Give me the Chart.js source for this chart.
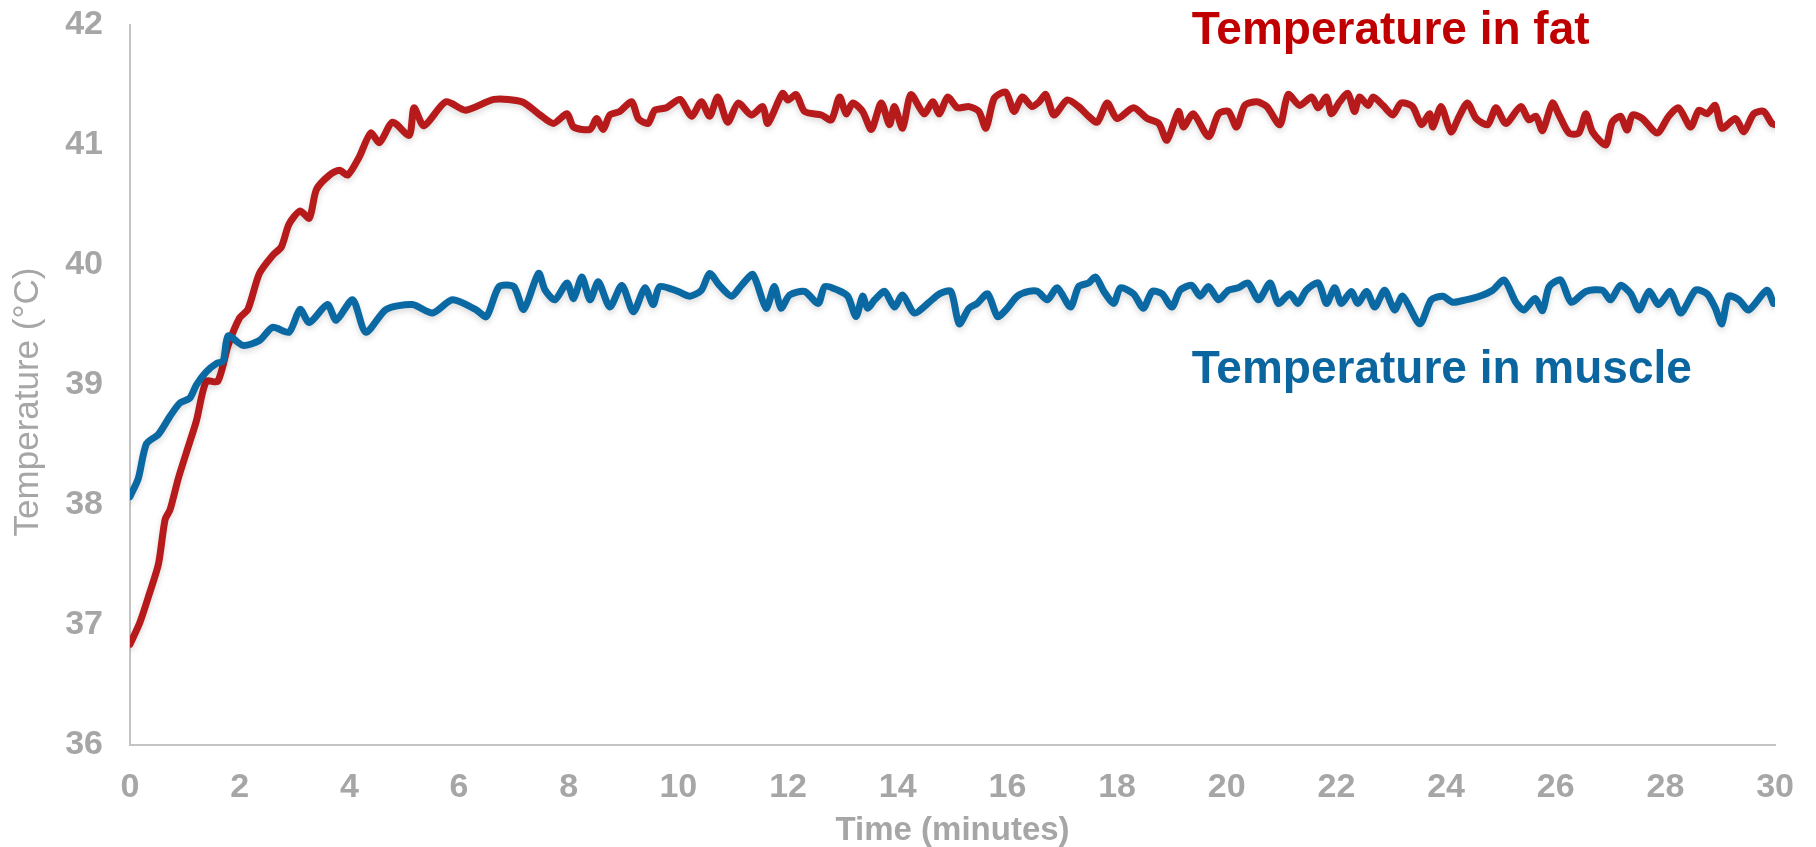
<!DOCTYPE html>
<html>
<head>
<meta charset="utf-8">
<title>Temperature in fat and muscle</title>
<script src="https://cdn.jsdelivr.net/npm/chart.js@4/dist/chart.umd.min.js"></script>
<style>
    html, body { margin: 0; padding: 0; background: #fff; }
    #wrap { width: 1816px; height: 847px; position: relative; }
</style>
</head>
<body>
<div id="wrap"><canvas id="tempChart"></canvas></div>
<script>
// ==================== DATA ====================
const xTicks = [0, 2, 4, 6, 8, 10, 12, 14, 16, 18, 20, 22, 24, 26, 28, 30];
const yTicks = [36, 37, 38, 39, 40, 41, 42];

const fatTime = [0, 0.18, 0.36, 0.52, 0.64, 0.73, 0.88, 1.03, 1.21, 1.39, 1.6, 1.79, 2.0, 2.15, 2.36, 2.6, 2.76, 2.9, 3.1, 3.27,
    3.4, 3.64, 3.82, 3.97, 4.18, 4.39, 4.55, 4.79, 5.09, 5.18, 5.36, 5.76, 6.12, 6.64, 7.15,
    7.45, 7.72, 7.97, 8.09, 8.39, 8.51, 8.63, 8.75, 8.93, 9.15, 9.27, 9.45, 9.57, 9.78, 10.03, 10.24, 10.42, 10.57, 10.72, 10.9,
    11.09, 11.33, 11.54, 11.63, 11.9, 12.0, 12.15, 12.3, 12.61, 12.79, 12.94, 13.06, 13.18, 13.36, 13.52, 13.7, 13.85, 13.94,
    14.09, 14.24, 14.48, 14.64, 14.76, 14.91, 15.09, 15.3, 15.48, 15.61, 15.76, 15.97, 16.12, 16.27, 16.45, 16.58, 16.7, 16.85,
    17.09, 17.3, 17.48, 17.64, 17.82, 18.0, 18.3, 18.55, 18.76, 18.91, 19.12, 19.21, 19.39, 19.67, 19.85, 20.03, 20.18, 20.33,
    20.55, 20.73, 20.97, 21.12, 21.33, 21.55, 21.67, 21.82, 21.91, 22.06, 22.21, 22.33, 22.42, 22.58, 22.67, 22.85, 23.03, 23.18,
    23.39, 23.55, 23.7, 23.76, 23.91, 24.09, 24.24, 24.39, 24.55, 24.76, 24.91, 25.09, 25.36, 25.51, 25.64, 25.76, 25.94, 26.06,
    26.24, 26.42, 26.55, 26.67, 26.91, 27.03, 27.18, 27.3, 27.4, 27.58, 27.85, 28.06, 28.24, 28.46, 28.61, 28.76, 28.91, 29.03,
    29.28, 29.43, 29.61, 29.79, 29.94, 30.0];
const fatTemp = [36.84, 37.02, 37.27, 37.51, 37.88, 37.96, 38.22, 38.44, 38.70, 39.03, 39.03, 39.33, 39.56, 39.63, 39.93, 40.08, 40.15, 40.34, 40.45, 40.39,
    40.63, 40.75, 40.79, 40.75, 40.90, 41.10, 41.02, 41.19, 41.08, 41.31, 41.16, 41.36, 41.29, 41.38, 41.36,
    41.26, 41.18, 41.26, 41.15, 41.13, 41.22, 41.13, 41.25, 41.28, 41.36, 41.22, 41.18, 41.29, 41.31, 41.38, 41.24, 41.36, 41.24, 41.40, 41.19,
    41.35, 41.25, 41.32, 41.18, 41.43, 41.375, 41.42, 41.28, 41.25, 41.21, 41.40, 41.26, 41.35, 41.28, 41.13, 41.35, 41.17, 41.32,
    41.14, 41.42, 41.26, 41.36, 41.26, 41.40, 41.31, 41.32, 41.28, 41.14, 41.39, 41.44, 41.28, 41.40, 41.32, 41.36, 41.42, 41.25,
    41.375, 41.32, 41.24, 41.19, 41.35, 41.22, 41.31, 41.22, 41.18, 41.04, 41.28, 41.15, 41.26, 41.07, 41.26, 41.28, 41.15, 41.33,
    41.36, 41.32, 41.17, 41.42, 41.33, 41.40, 41.31, 41.40, 41.26, 41.36, 41.43, 41.28, 41.40, 41.33, 41.40, 41.33, 41.25, 41.35,
    41.32, 41.17, 41.26, 41.15, 41.32, 41.11, 41.24, 41.35, 41.22, 41.17, 41.31, 41.18, 41.32, 41.21, 41.24, 41.12, 41.35, 41.25,
    41.10, 41.10, 41.26, 41.11, 41.00, 41.19, 41.24, 41.125, 41.25, 41.22, 41.10, 41.24, 41.31, 41.15, 41.29, 41.26, 41.33, 41.14,
    41.22, 41.11, 41.26, 41.28, 41.18, 41.17];

const muscleTime = [0, 0.15, 0.3, 0.52, 0.73, 0.91, 1.09, 1.21, 1.39, 1.58, 1.7, 1.79, 2.06, 2.36, 2.6, 2.9, 3.1, 3.27, 3.6, 3.76,
    4.06, 4.3, 4.67, 5.15, 5.52, 5.88, 6.3, 6.5, 6.73, 7.0, 7.18,
    7.45, 7.57, 7.75, 7.97, 8.09, 8.24, 8.39, 8.54, 8.75, 8.97, 9.18, 9.39, 9.54, 9.66, 9.99, 10.21, 10.42, 10.57, 10.75, 10.97,
    11.15, 11.36, 11.6, 11.75, 11.87, 12.03, 12.3, 12.55, 12.67, 12.91, 13.09, 13.24, 13.36, 13.45, 13.58, 13.76, 13.94, 14.09,
    14.3, 14.55, 14.76, 14.97, 15.12, 15.3, 15.45, 15.64, 15.82, 15.97, 16.18, 16.39, 16.55, 16.73, 16.91, 17.15, 17.3, 17.48,
    17.61, 17.76, 17.94, 18.06, 18.3, 18.48, 18.64, 18.82, 19.0, 19.15, 19.36, 19.515, 19.67, 19.85, 20.03, 20.21, 20.39, 20.58,
    20.79, 20.94, 21.15, 21.3, 21.45, 21.67, 21.82, 21.97, 22.09, 22.27, 22.39, 22.55, 22.7, 22.88, 23.06, 23.21, 23.52, 23.73,
    23.94, 24.12, 24.36, 24.61, 24.85, 25.06, 25.27, 25.42, 25.62, 25.76, 25.88, 26.09, 26.28, 26.55, 26.85, 27.0, 27.18, 27.37,
    27.52, 27.7, 27.88, 28.09, 28.28, 28.55, 28.76, 28.91, 29.03, 29.15, 29.34, 29.52, 29.85, 29.97];
const muscleTemp = [38.07, 38.22, 38.51, 38.59, 38.74, 38.85, 38.89, 39.00, 39.11, 39.18, 39.20, 39.41, 39.33, 39.37, 39.48, 39.44, 39.63, 39.52, 39.67, 39.54,
    39.71, 39.44, 39.63, 39.67, 39.60, 39.71, 39.63, 39.57, 39.82, 39.82, 39.63,
    39.93, 39.79, 39.71, 39.85, 39.72, 39.90, 39.71, 39.86, 39.65, 39.83, 39.61, 39.81, 39.67, 39.82, 39.78, 39.74, 39.79, 39.93, 39.83, 39.74,
    39.83, 39.92, 39.64, 39.82, 39.64, 39.75, 39.78, 39.68, 39.82, 39.79, 39.74, 39.57, 39.74, 39.64, 39.71, 39.78, 39.65, 39.75,
    39.60, 39.68, 39.76, 39.78, 39.51, 39.64, 39.68, 39.76, 39.57, 39.625, 39.74, 39.78, 39.78, 39.71, 39.81, 39.65, 39.82, 39.85,
    39.90, 39.78, 39.68, 39.81, 39.76, 39.64, 39.78, 39.76, 39.65, 39.79, 39.83, 39.74, 39.82, 39.71, 39.79, 39.81, 39.85, 39.71,
    39.85, 39.68, 39.76, 39.68, 39.79, 39.85, 39.68, 39.81, 39.68, 39.78, 39.68, 39.78, 39.65, 39.79, 39.625, 39.74, 39.51, 39.71,
    39.74, 39.69, 39.71, 39.74, 39.79, 39.875, 39.69, 39.625, 39.72, 39.62, 39.82, 39.875, 39.69, 39.78, 39.79, 39.71, 39.83, 39.76,
    39.625, 39.78, 39.67, 39.78, 39.60, 39.79, 39.76, 39.64, 39.51, 39.74, 39.71, 39.625, 39.79, 39.68];

// ==================== STYLE ====================
const FONT = "'Liberation Sans', Arial, sans-serif";
const GRIS = '#a6a6a6';
const ROJO = '#b71a1a';
const AZUL = '#0a69a3';

function toPoints(xs, ys) {
    return xs.map(function(x, i) { return { x: x, y: ys[i] }; });
}

// soft shadow under the lines
const sombraPlugin = {
    id: 'sombra',
    beforeDatasetDraw: function(chart) {
        const ctx = chart.ctx;
        ctx.save();
        ctx.shadowColor = 'rgba(0, 0, 0, 0.15)';
        ctx.shadowBlur = 6;
        ctx.shadowOffsetY = 3;
    },
    afterDatasetDraw: function(chart) {
        chart.ctx.restore();
    }
};

// line labels (data coordinates) and the y axis title, a bit below centre as in the original
const etiquetasPlugin = {
    id: 'etiquetas',
    afterDraw: function(chart) {
        const ctx = chart.ctx;
        const sx = chart.scales.x;
        const sy = chart.scales.y;
        const area = chart.chartArea;
        ctx.save();
        ctx.font = 'bold 46px ' + FONT;
        ctx.textAlign = 'left';
        ctx.textBaseline = 'alphabetic';
        ctx.fillStyle = '#c00000';
        ctx.fillText('Temperature in fat', sx.getPixelForValue(19.36), sy.getPixelForValue(41.84));
        ctx.fillStyle = '#0b66a0';
        ctx.fillText('Temperature in muscle', sx.getPixelForValue(19.36), sy.getPixelForValue(39.02));

        ctx.translate(28, (area.top + area.bottom) / 2 + 17);
        ctx.rotate(-Math.PI / 2);
        ctx.font = '35px ' + FONT;
        ctx.textAlign = 'center';
        ctx.textBaseline = 'middle';
        ctx.fillStyle = GRIS;
        ctx.fillText('Temperature (°C)', 0, 0);
        ctx.restore();
    }
};

document.addEventListener('DOMContentLoaded', function() {
    const ctx = document.getElementById('tempChart');

    new Chart(ctx, {
        type: 'line',
        data: {
            datasets: [{
                label: 'Temperature in fat',
                data: toPoints(fatTime, fatTemp),
                borderColor: ROJO,
                borderWidth: 7,
                pointRadius: 0,
                tension: 0.25,
                borderJoinStyle: 'round',
                borderCapStyle: 'round',
                order: 1
            }, {
                label: 'Temperature in muscle',
                data: toPoints(muscleTime, muscleTemp),
                borderColor: AZUL,
                borderWidth: 7,
                pointRadius: 0,
                tension: 0.25,
                borderJoinStyle: 'round',
                borderCapStyle: 'round',
                order: 0
            }]
        },
        options: {
            responsive: true,
            maintainAspectRatio: false,
            animation: false,
            layout: {
                padding: { top: 25, right: 36, bottom: 0, left: 0 }
            },
            plugins: {
                legend: { display: false },
                tooltip: { enabled: false }
            },
            scales: {
                x: {
                    type: 'linear',
                    min: 0,
                    max: 30,
                    afterBuildTicks: function(scale) {
                        scale.ticks = xTicks.map(function(v) { return { value: v }; });
                    },
                    afterFit: function(scale) {
                        scale.height = 102;
                    },
                    grid: { display: false, drawTicks: false },
                    border: { display: true, color: '#c4c4c4', width: 2 },
                    ticks: {
                        color: GRIS,
                        padding: 22,
                        maxRotation: 0,
                        font: { family: FONT, size: 34, weight: 'bold' }
                    },
                    title: {
                        display: true,
                        text: 'Time (minutes)',
                        color: GRIS,
                        padding: { top: 0, bottom: -4 },
                        font: { family: FONT, size: 33, weight: 'bold' }
                    }
                },
                y: {
                    min: 36,
                    max: 42,
                    afterBuildTicks: function(scale) {
                        scale.ticks = yTicks.map(function(v) { return { value: v }; });
                    },
                    afterFit: function(scale) {
                        scale.width = 130;
                        // the tick padding should not push the plot down
                        scale.paddingTop = 0;
                        scale.paddingBottom = 0;
                    },
                    grid: { display: false, drawTicks: false },
                    border: { display: true, color: '#c4c4c4', width: 2 },
                    ticks: {
                        color: GRIS,
                        padding: 27,
                        font: { family: FONT, size: 34, weight: 'bold' }
                    }
                }
            }
        },
        plugins: [sombraPlugin, etiquetasPlugin]
    });
});
</script>
</body>
</html>
